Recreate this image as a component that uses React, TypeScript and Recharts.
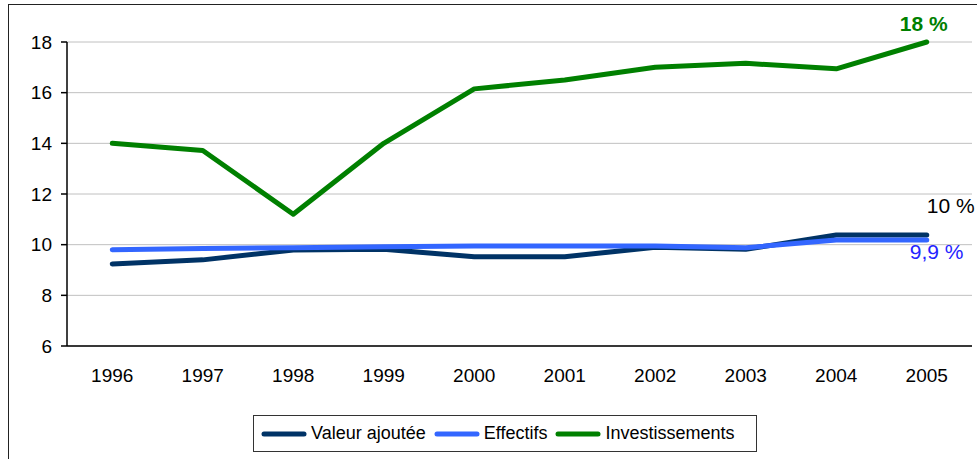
import { LineChart, Line, XAxis, YAxis, CartesianGrid, Legend } from 'recharts';

const years = ['1996', '1997', '1998', '1999', '2000', '2001', '2002', '2003', '2004', '2005'];
const valeurAjoutee = [9.24, 9.4, 9.79, 9.82, 9.52, 9.52, 9.9, 9.82, 10.38, 10.38];
const effectifs = [9.8, 9.85, 9.88, 9.92, 9.95, 9.95, 9.95, 9.88, 10.18, 10.18];
const investissements = [14.0, 13.72, 11.2, 14.0, 16.15, 16.5, 17.0, 17.16, 16.94, 18.0];
const yTicks = [6, 8, 10, 12, 14, 16, 18];
const boundaryTicks = [0, 1, 2, 3, 4, 5, 6, 7, 8, 9, 10];
const seriesNames = ['Valeur ajoutée', 'Effectifs', 'Investissements'];
const endLabels = ['10 %', '9,9 %', '18 %'];

const data = years.map((year, i) => ({
  year,
  va: valeurAjoutee[i],
  eff: effectifs[i],
  inv: investissements[i],
}));

const FONT = '"Liberation Sans", Arial, sans-serif';
const colors = ['#003366', '#3366FF', '#008000'];

const lastIdx = years.length - 1;
const halfBand = 45.25;

// end-of-series labels, only on the last point
const makeEndLabel = (text: string, color: string, dx: number, dy: number, anchor: string, bold = false) =>
  (props: any) => {
    if (props.index !== lastIdx) return null;
    return (
      <text
        x={props.x + dx}
        y={props.y + dy}
        textAnchor={anchor}
        fill={color}
        fontSize={21}
        fontWeight={bold ? 700 : 400}
        fontFamily={FONT}
      >
        {text}
      </text>
    );
  };

const LegendBox = () => (
  <div
    style={{
      border: '1px solid #333',
      height: 37,
      display: 'flex',
      alignItems: 'center',
      paddingLeft: 7,
      boxSizing: 'border-box',
      fontFamily: FONT,
      fontSize: 18,
      color: '#000',
      whiteSpace: 'nowrap',
    }}
  >
    {seriesNames.map((name, i) => (
      <div key={name} style={{ display: 'flex', alignItems: 'center', marginRight: 8 }}>
        <svg width={46} height={8} style={{ marginRight: 4 }}>
          <line x1={3} y1={4} x2={43} y2={4} stroke={colors[i]} strokeWidth={5} strokeLinecap="round" />
        </svg>
        <span>{name}</span>
      </div>
    ))}
  </div>
);

export default function App() {
  return (
    <div
      style={{
        position: 'absolute',
        left: 0,
        top: 0,
        width: 977,
        height: 459,
        overflow: 'hidden',
        background: '#fff',
        fontFamily: FONT,
      }}
    >
      <div
        style={{
          position: 'absolute',
          left: 8,
          top: 4,
          width: 1100,
          height: 600,
          border: '1.5px solid #222',
        }}
      />
      <div style={{ position: 'absolute', left: 0, top: 0 }}>
        <LineChart
          width={977}
          height={459}
          data={data}
          margin={{ top: 42, right: 5, left: 0, bottom: 73 }}
        >
          <CartesianGrid vertical={false} stroke="#C0C0C0" strokeWidth={1} />
          <XAxis
            xAxisId="top"
            dataKey="year"
            orientation="top"
            height={0}
            tick={false}
            tickLine={false}
            padding={{ left: halfBand, right: halfBand }}
            axisLine={{ stroke: '#808080', strokeWidth: 1.5 }}
          />
          <XAxis
            xAxisId="bounds"
            type="number"
            domain={[0, 10]}
            ticks={boundaryTicks}
            height={0}
            tick={false}
            tickSize={6}
            tickLine={{ stroke: '#000', strokeWidth: 1.5 }}
            axisLine={false}
          />
          <XAxis
            dataKey="year"
            height={40}
            tickLine={false}
            tickSize={6}
            tickMargin={17}
            padding={{ left: halfBand, right: halfBand }}
            axisLine={{ stroke: '#000', strokeWidth: 1.5 }}
            tick={{ fill: '#000', fontSize: 19, fontFamily: FONT }}
            interval={0}
          />
          <YAxis
            domain={[6, 18]}
            ticks={yTicks}
            width={67}
            tickSize={6}
            tickMargin={9}
            tickLine={{ stroke: '#000', strokeWidth: 1.5 }}
            axisLine={{ stroke: '#000', strokeWidth: 1.5 }}
            tick={{ fill: '#000', fontSize: 19, fontFamily: FONT }}
          />
          <YAxis
            yAxisId="right"
            orientation="right"
            width={0}
            tick={false}
            tickLine={false}
            axisLine={{ stroke: '#808080', strokeWidth: 1.5 }}
          />
          <Legend
            layout="horizontal"
            verticalAlign="middle"
            align="center"
            wrapperStyle={{ top: 415, left: 253, width: 504, height: 38 }}
            content={() => <LegendBox />}
          />
          <Line
            type="linear"
            dataKey="va"
            name={seriesNames[0]}
            stroke={colors[0]}
            strokeWidth={5}
            strokeLinejoin="round"
            strokeLinecap="round"
            dot={false}
            isAnimationActive={false}
            label={makeEndLabel(endLabels[0], '#000', 0, -22, 'start')}
          />
          <Line
            type="linear"
            dataKey="eff"
            name={seriesNames[1]}
            stroke={colors[1]}
            strokeWidth={5}
            strokeLinejoin="round"
            strokeLinecap="round"
            dot={false}
            isAnimationActive={false}
            label={makeEndLabel(endLabels[1], '#2424FF', -17, 19, 'start')}
          />
          <Line
            type="linear"
            dataKey="inv"
            name={seriesNames[2]}
            stroke={colors[2]}
            strokeWidth={5}
            strokeLinejoin="round"
            strokeLinecap="round"
            dot={false}
            isAnimationActive={false}
            label={makeEndLabel(endLabels[2], '#008000', -3, -11, 'middle', true)}
          />
        </LineChart>
      </div>
    </div>
  );
}
